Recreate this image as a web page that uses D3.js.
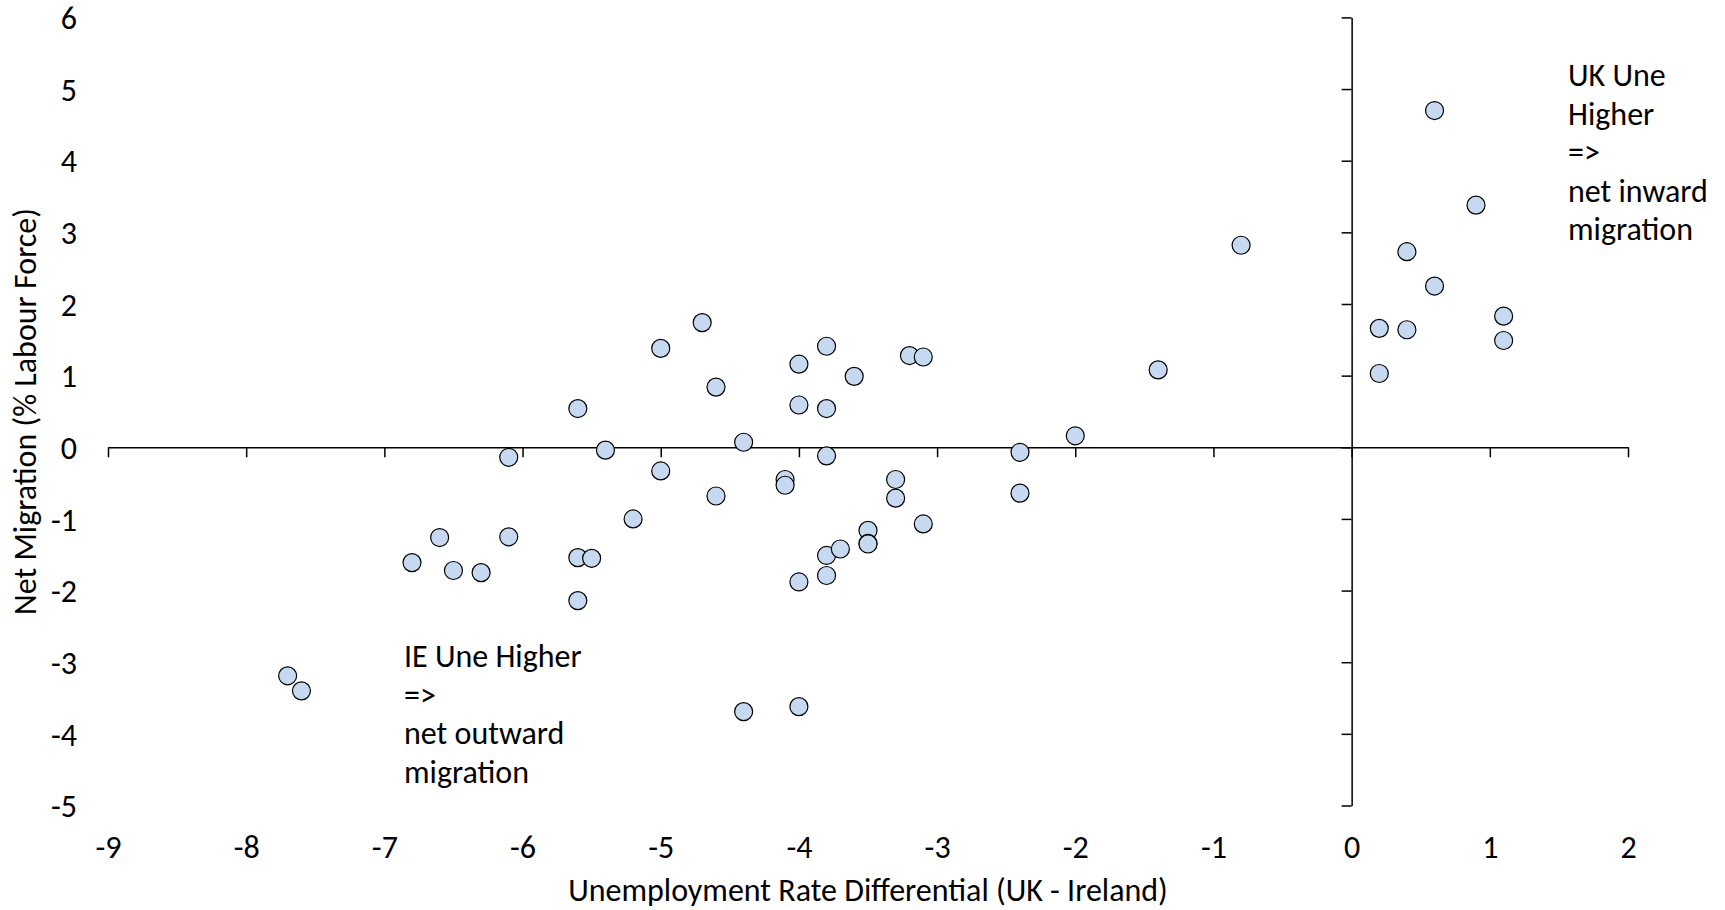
<html>
<head>
    <title>Net Migration vs Unemployment Differential</title>
    <style>
        body { margin: 0; background: #ffffff; }
        svg text { font-family: Carlito, Calibri, Lato, sans-serif; fill: #000000; }
    </style>
</head>
<body>
<div id="my_dataviz"></div>
<script src="https://cdn.jsdelivr.net/npm/d3@7"></script>
<script>

    // unemployment rate differential (UK - Ireland)
    var unempDiff = [
        -7.7, -7.6, -6.8, -6.6, -6.5, -6.3, -6.1, -6.1, -5.6, -5.6,
        -5.5, -5.6, -5.4, -5.2, -5.0, -5.0, -4.7, -4.6, -4.6, -4.4,
        -4.4, -4.1, -4.1, -4.0, -4.0, -4.0, -4.0, -3.8, -3.8, -3.8,
        -3.8, -3.8, -3.7, -3.6, -3.5, -3.5, -3.5, -3.3, -3.3, -3.2,
        -3.1, -3.1, -2.4, -2.4, -2.0, -1.4, -0.8, 0.2, 0.2, 0.4,
        0.4, 0.6, 0.6, 0.9, 1.1, 1.1
    ];
    // net migration (% labour force)
    var netMigration = [
        -3.19, -3.40, -1.61, -1.26, -1.72, -1.75, -0.14, -1.25, 0.54, -1.54,
        -1.55, -2.14, -0.04, -1.0, 1.38, -0.33, 1.74, 0.84, -0.68, 0.07,
        -3.69, -0.45, -0.53, 1.16, 0.59, -1.88, -3.62, 1.41, 0.54, -0.12,
        -1.51, -1.79, -1.42, 0.99, -1.16, -1.34, -1.35, -0.45, -0.71, 1.28,
        1.26, -1.07, -0.07, -0.64, 0.16, 1.08, 2.82, 1.66, 1.03, 2.73,
        1.64, 4.70, 2.25, 3.38, 1.83, 1.49
    ];

    var xTicks = [-9, -8, -7, -6, -5, -4, -3, -2, -1, 0, 1, 2];
    var yTicks = [-5, -4, -3, -2, -1, 0, 1, 2, 3, 4, 5, 6];

    var xTitle = "Unemployment Rate Differential (UK - Ireland)";
    var yTitle = "Net Migration (% Labour Force)";
    var ukNote = ["UK Une", "Higher", "=>", "net inward", "migration"];
    var ieNote = ["IE Une Higher", "=>", "net outward", "migration"];

    var width = 1725,
        height = 910,
        fontSize = 32,
        lineGap = 38.5;

    var svg = d3.select("#my_dataviz")
        .append("svg")
        .attr("width", width)
        .attr("height", height);

    var x = d3.scaleLinear()
        .domain([-9, 2])
        .range([108, 1628]);

    var y = d3.scaleLinear()
        .domain([-5, 6])
        .range([805.5, 17.4]);

    // x axis crosses at y = 0
    svg.append("g")
        .attr("transform", "translate(0," + y(0) + ")")
        .call(d3.axisBottom(x).tickValues(xTicks).tickSize(10).tickSizeOuter(0).tickFormat(""));

    // y axis crosses at x = 0
    svg.append("g")
        .attr("transform", "translate(" + x(0) + ",0)")
        .call(d3.axisLeft(y).tickValues(yTicks).tickSize(10).tickSizeOuter(0).tickFormat(""));

    svg.selectAll(".domain, .tick line")
        .attr("stroke", "#000000")
        .attr("stroke-width", 1.5);

    // tick labels sit at the low end of each axis
    var xLabels = svg.append("g")
        .attr("transform", "translate(0,847)")
        .call(d3.axisBottom(x).tickValues(xTicks).tickSize(0).tickPadding(0).tickFormat(function (d) { return String(d); }));
    xLabels.select(".domain").remove();
    xLabels.selectAll("text")
        .attr("y", 0)
        .attr("dy", "0.35em")
        .style("font-size", fontSize + "px")
        .style("font-family", null);

    var yLabels = svg.append("g")
        .attr("transform", "translate(77,0)")
        .call(d3.axisLeft(y).tickValues(yTicks).tickSize(0).tickPadding(0).tickFormat(function (d) { return String(d); }));
    yLabels.select(".domain").remove();
    yLabels.selectAll("text")
        .attr("dy", "0.35em")
        .style("font-size", fontSize + "px")
        .style("font-family", null);

    svg.selectAll(".tick text").attr("fill", "#000000");

    // axis titles
    svg.append("text")
        .attr("x", (x(-9) + x(2)) / 2)
        .attr("y", 901)
        .attr("text-anchor", "middle")
        .style("font-size", fontSize + "px")
        .text(xTitle);

    svg.append("text")
        .attr("transform", "translate(36," + ((y(-5) + y(6)) / 2) + ") rotate(-90)")
        .attr("text-anchor", "middle")
        .style("font-size", fontSize + "px")
        .text(yTitle);

    // points
    var points = unempDiff.map(function (d, i) { return { ux: d, nm: netMigration[i] }; });

    svg.append("g")
        .selectAll("circle")
        .data(points)
        .enter()
        .append("circle")
        .attr("cx", function (d) { return x(d.ux); })
        .attr("cy", function (d) { return y(d.nm); })
        .attr("r", 9)
        .style("fill", "#c6d9f1")
        .style("stroke", "#000000")
        .style("stroke-width", 1.2);

    // annotations
    svg.append("text")
        .style("font-size", fontSize + "px")
        .selectAll("tspan")
        .data(ukNote)
        .enter()
        .append("tspan")
        .attr("x", 1568)
        .attr("y", function (d, i) { return 86 + i * lineGap; })
        .text(function (d) { return d; });

    svg.append("text")
        .style("font-size", fontSize + "px")
        .selectAll("tspan")
        .data(ieNote)
        .enter()
        .append("tspan")
        .attr("x", 404)
        .attr("y", function (d, i) { return 667 + i * lineGap; })
        .text(function (d) { return d; });

</script>
</body>
</html>
